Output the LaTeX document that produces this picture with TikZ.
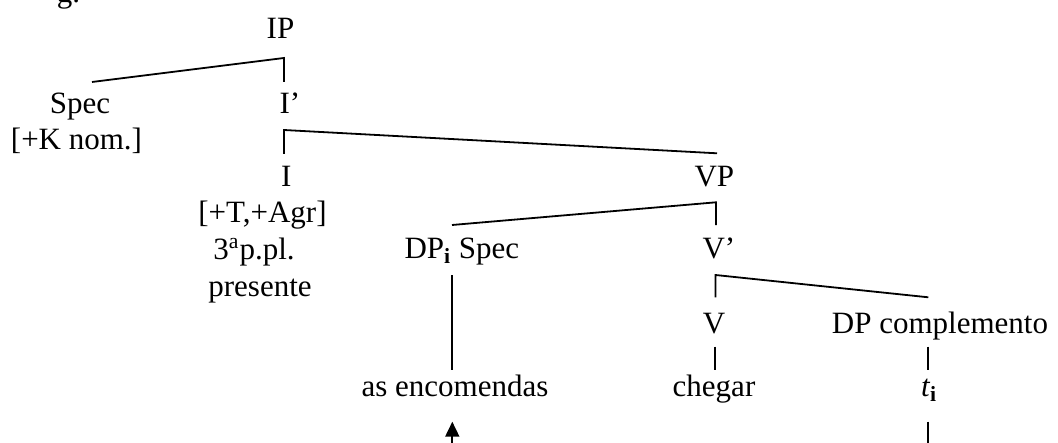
\documentclass[tikz,border=0pt]{standalone}
\usepackage{fontspec}
\setmainfont{Liberation Serif}
\usetikzlibrary{arrows.meta}
\begin{document}
\begin{tikzpicture}[x=0.5pt,y=-0.5pt,
  lbl/.style={inner sep=0pt, outer sep=0pt, anchor=base, font=\fontsize{15.5}{18}\selectfont},
  branch/.style={line width=0.9pt, line join=miter, line cap=butt},
  movearrow/.style={branch, -{Triangle[length=7.5pt,width=7pt]}}]
\useasboundingbox (0,0) rectangle (1058,443);
% texts
\node[lbl, anchor=base east] (fig) at (80,3) {g.};
\node[lbl] (IP) at (280.5,38.3) {IP};
\node[lbl] (spec) at (80,113.3) {Spec};
\node[lbl] (specK) at (76.5,150) {[+K nom.]};
\node[lbl, anchor=base west] (Ibar) at (279.5,113.3) {I’};
\node[lbl, anchor=base west] (I) at (281,186.7) {I};
\node[lbl] (TAgr) at (262.5,222.5) {[+T,+Agr]};
\node[lbl] (pers) at (254,259) {3\textsuperscript{a}p.pl.};
\node[lbl] (pres) at (260,296.5) {presente};
\node[lbl, anchor=base west] (VP) at (694.5,186.7) {VP};
\node[lbl, anchor=base west] (DPspec) at (404.5,258.3) {DP\textsubscript{\textbf{i}} Spec};
\node[lbl, anchor=base west] (Vbar) at (702.5,258.3) {V’};
\node[lbl] (V) at (714,333.3) {V};
\node[lbl] (DPcomp) at (940,333.3) {DP complemento};
\node[lbl] (enc) at (455,396.7) {as encomendas};
\node[lbl] (cheg) at (714,396.7) {chegar};
\node[lbl, anchor=base west] (trace) at (921,396.7) {\textit{t}\textsubscript{\textbf{i}}};
% branch points
\coordinate (ipL) at (92,82);
\coordinate (ipC) at (284,58);
\coordinate (ipR) at (284,82);
\coordinate (ibC) at (284,130);
\coordinate (ibL) at (284,154);
\coordinate (ibR) at (717,153.3);
\coordinate (vpL) at (452,225);
\coordinate (vpC) at (716,202.3);
\coordinate (vpR) at (716,225);
\coordinate (dpT) at (452.3,275);
\coordinate (dpB) at (452.3,370);
\coordinate (vbC) at (715.5,275);
\coordinate (vbL) at (715.5,297.3);
\coordinate (vbR) at (928.3,297.3);
\coordinate (vT) at (715,346.7);
\coordinate (vB) at (715,370);
\coordinate (cT) at (928.3,346.7);
\coordinate (cB) at (928.3,370);
\coordinate (tT) at (928.3,421.7);
\coordinate (aTip) at (452.3,421.7);
% branches
\draw[branch] (ipL) -- (ipC) -- (ipR);
\draw[branch] (ibL) -- (ibC) -- (ibR);
\draw[branch] (vpL) -- (vpC) -- (vpR);
\draw[branch] (dpT) -- (dpB);
\draw[branch] (vbL) -- (vbC) -- (vbR);
\draw[branch] (vT) -- (vB);
\draw[branch] (cT) -- (cB);
% movement arrow (runs below the visible area)
\draw[movearrow] (tT) -- (928.3,470) -- (452.3,470) -- (aTip);
\end{tikzpicture}
\end{document}
